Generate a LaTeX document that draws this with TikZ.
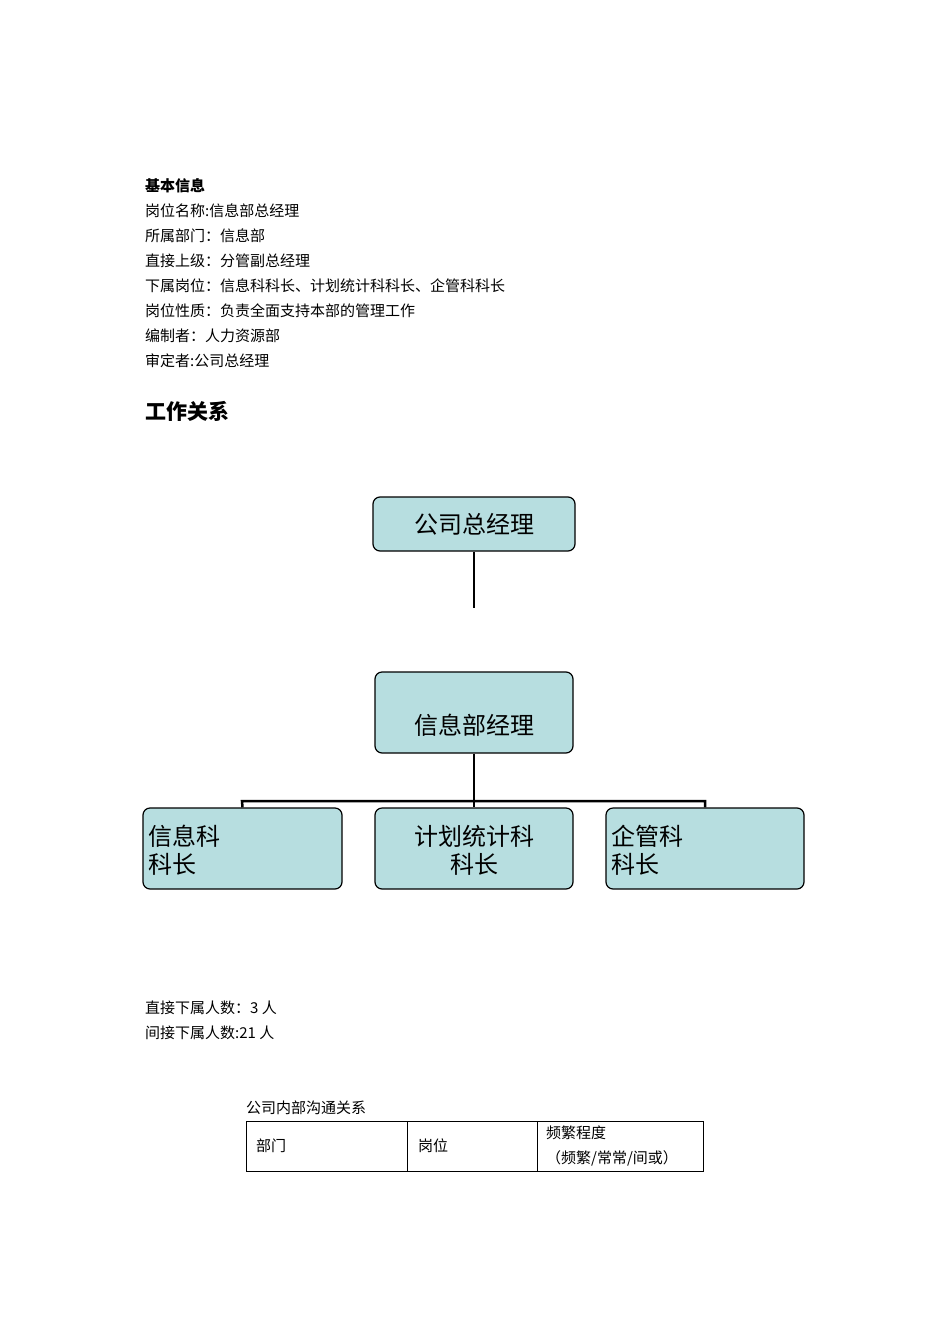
\documentclass[tikz,border=0pt]{standalone}
\usepackage{fontspec}
\setmainfont{Noto Sans CJK SC}
\begin{document}
\begin{tikzpicture}[x=1pt,y=-1pt,
  box/.style={draw=black,line width=1.2pt,fill={rgb,255:red,183;green,222;blue,224},rounded corners=7pt,minimum width=#1},
  txt/.style={anchor=west,inner sep=0pt,font=\fontsize{15}{15}\selectfont},
  big/.style={font=\fontsize{24}{28}\selectfont},
  ln/.style={line width=2.5pt}]
\useasboundingbox (0,0) rectangle (950,1344);
\node[txt,font=\fontsize{15}{15}\selectfont\bfseries] (t0) at (145,186) {基本信息};
\node[txt] (t1) at (145,211) {岗位名称:信息部总经理};
\node[txt] (t2) at (145,236) {所属部门：信息部};
\node[txt] (t3) at (145,261) {直接上级：分管副总经理};
\node[txt] (t4) at (145,286) {下属岗位：信息科科长、计划统计科科长、企管科科长};
\node[txt] (t5) at (145,311) {岗位性质：负责全面支持本部的管理工作};
\node[txt] (t6) at (145,336) {编制者：人力资源部};
\node[txt] (t7) at (145,361) {审定者:公司总经理};
\node[txt,font=\fontsize{21}{21}\selectfont\bfseries] (h) at (145,411) {工作关系};

\node[box,minimum width=202pt,minimum height=54pt,big] (ceo) at (474,524) {公司总经理};
\coordinate (c1) at (474,608);
\draw[ln] (ceo.south) -- (c1);
\node[box,minimum width=198pt,minimum height=81pt] (mgr) at (474,712.5) {};
\node[big] (mgrt) at (474,725) {信息部经理};
\node[box,minimum width=199pt,minimum height=81pt] (b1) at (242.5,848.5) {};
\node[box,minimum width=198pt,minimum height=81pt] (b2) at (474,848.5) {};
\node[box,minimum width=198pt,minimum height=81pt] (b3) at (705,848.5) {};
\node[big,anchor=west,align=left,inner sep=0pt] (l1) at (148,850) {信息科\\科长};
\node[big,align=center,inner sep=0pt] (l2) at (474,850) {计划统计科\\科长};
\node[big,anchor=west,align=left,inner sep=0pt] (l3) at (611,850) {企管科\\科长};
\coordinate (j) at (474,801);
\draw[ln] (mgr.south) -- (j);
\draw[ln] (b1.north) -- (242,801) -- (705,801) -- (b3.north);
\draw[ln] (j) -- (b2.north);

\node[txt] (s1) at (145,1008) {直接下属人数：3 人};
\node[txt] (s2) at (145,1033) {间接下属人数:21 人};
\node[txt] (cap) at (246,1108) {公司内部沟通关系};
\draw[line width=0.8pt] (246,1121) rectangle (703,1171) (407,1121) -- (407,1171) (537,1121) -- (537,1171);
\node[txt] (c1t) at (256,1146) {部门};
\node[txt] (c2t) at (418,1146) {岗位};
\node[txt] (c3t) at (546,1133) {频繁程度};
\node[txt] (c4t) at (546,1158) {（频繁/常常/间或）};
\end{tikzpicture}
\end{document}
